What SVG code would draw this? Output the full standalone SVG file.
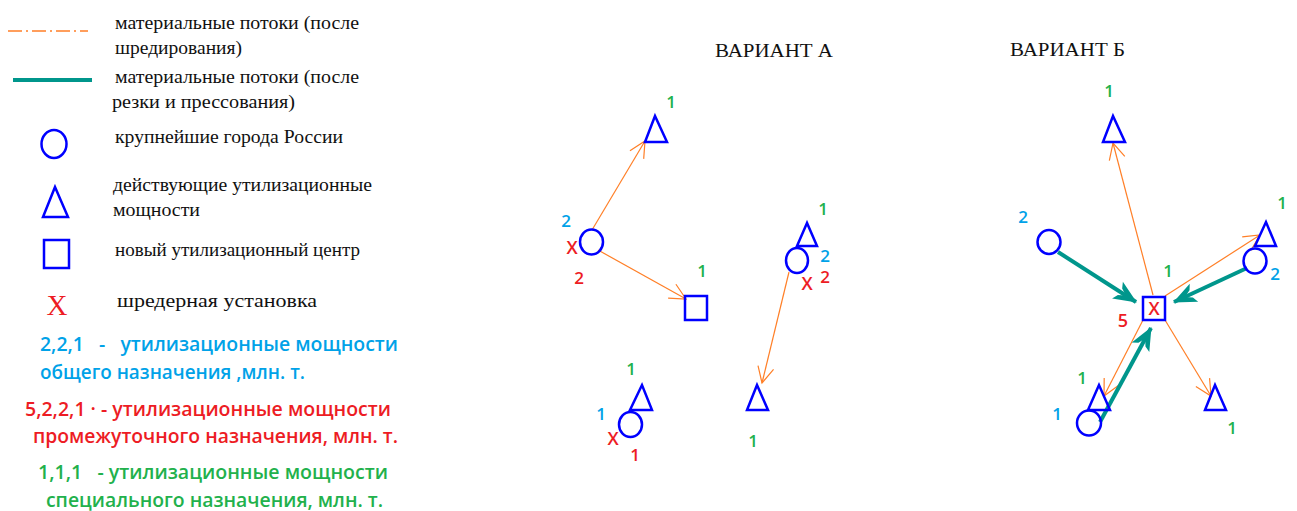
<svg xmlns="http://www.w3.org/2000/svg" width="1297" height="511" viewBox="0 0 1297 511">
<style>
  .lt { font-family: "Liberation Serif", "Times New Roman", serif; font-size: 19px; fill: #111; }
  .ct { font-family: "Open Sans", "Liberation Sans", Arial, sans-serif; font-size: 19px; font-weight: 600; }
  .ttl { font-family: "Liberation Serif", "Times New Roman", serif; font-size: 19px; fill: #111; }
  .num { font-family: "Open Sans", "Liberation Sans", Arial, sans-serif; font-size: 17px; font-weight: 600; text-anchor: middle; }
  .x { font-size: 18px; }
  .g { fill: #22b14c; }
  .b { fill: #00a2e8; }
  .r { fill: #ed1c24; }
  .shp { fill: none; stroke: #0000ff; stroke-width: 2.5; }
  .of { fill: none; stroke: #ff7f27; stroke-width: 1.2; }
  .tf { fill: none; stroke: #00968c; stroke-width: 4; }
</style>
<defs>
  <marker id="ao" markerUnits="userSpaceOnUse" viewBox="-20 -12 24 24" refX="0" refY="0" markerWidth="24" markerHeight="24" orient="auto" overflow="visible">
    <path d="M-16,-8 L0,0 L-16,8" fill="none" stroke="#ff7f27" stroke-width="1.2"/>
  </marker>
  <marker id="at" markerUnits="userSpaceOnUse" viewBox="-26 -14 30 28" refX="0" refY="0" markerWidth="30" markerHeight="28" orient="auto" overflow="visible">
    <path d="M1,0 L-22,-10 L-19,-4 L-12,0 L-19,4 L-22,10 Z" fill="#00968c"/>
  </marker>
</defs>

<g id="legend">
  <line x1="8" y1="31" x2="88" y2="31" stroke="#ff7f27" stroke-width="1.3" stroke-dasharray="14 4 2 4"/>
  <text class="lt" x="115" y="29" textLength="244" lengthAdjust="spacingAndGlyphs">материальные потоки (после</text>
  <text class="lt" x="115" y="54" textLength="127" lengthAdjust="spacingAndGlyphs">шредирования)</text>
  <line x1="13" y1="80" x2="92" y2="80" stroke="#00968c" stroke-width="4"/>
  <text class="lt" x="115" y="83" textLength="244" lengthAdjust="spacingAndGlyphs">материальные потоки (после</text>
  <text class="lt" x="112" y="108" textLength="183" lengthAdjust="spacingAndGlyphs">резки и прессования)</text>
  <ellipse class="shp" cx="54" cy="144" rx="12.5" ry="14"/>
  <text class="lt" x="115" y="143" textLength="228" lengthAdjust="spacingAndGlyphs">крупнейшие города России</text>
  <polygon class="shp" points="55,187 43,217 68,217" stroke-width="3"/>
  <text class="lt" x="113" y="191" textLength="259" lengthAdjust="spacingAndGlyphs">действующие утилизационные</text>
  <text class="lt" x="113" y="216" textLength="87" lengthAdjust="spacingAndGlyphs">мощности</text>
  <rect class="shp" x="44" y="240" width="25" height="28" stroke-width="3"/>
  <text class="lt" x="115" y="256" textLength="245" lengthAdjust="spacingAndGlyphs">новый утилизационный центр</text>
  <text x="57" y="315" text-anchor="middle" font-family="Liberation Serif, serif" font-size="29" fill="#ed1c24">X</text>
  <text class="lt" x="117" y="307" textLength="200" lengthAdjust="spacingAndGlyphs">шредерная установка</text>
  <text class="ct b" x="40" y="351" xml:space="preserve" textLength="358" lengthAdjust="spacingAndGlyphs">2,2,1   -   утилизационные мощности</text>
  <text class="ct b" x="40" y="379" textLength="265" lengthAdjust="spacingAndGlyphs">общего назначения ,млн. т.</text>
  <text class="ct r" x="25" y="416" xml:space="preserve" textLength="366" lengthAdjust="spacingAndGlyphs">5,2,2,1 · - утилизационные мощности</text>
  <text class="ct r" x="33" y="443" textLength="365" lengthAdjust="spacingAndGlyphs">промежуточного назначения, млн. т.</text>
  <text class="ct g" x="38" y="479" xml:space="preserve" textLength="350" lengthAdjust="spacingAndGlyphs">1,1,1   - утилизационные мощности</text>
  <text class="ct g" x="46" y="507" textLength="337" lengthAdjust="spacingAndGlyphs">специального назначения, млн. т.</text>
</g>

<text class="ttl" x="715" y="57" textLength="118" lengthAdjust="spacingAndGlyphs">ВАРИАНТ А</text>
<text class="ttl" x="1010" y="56" textLength="115" lengthAdjust="spacingAndGlyphs">ВАРИАНТ Б</text>

<g id="connectors">
  <line class="of" x1="592" y1="230" x2="645" y2="141" marker-end="url(#ao)"/>
  <line class="of" x1="598" y1="250" x2="686" y2="299" marker-end="url(#ao)"/>
  <line class="of" x1="789" y1="272" x2="762" y2="383" marker-end="url(#ao)"/>
  <line class="of" x1="1153" y1="295" x2="1113" y2="143" marker-end="url(#ao)"/>
  <line class="of" x1="1165" y1="296" x2="1260" y2="235" marker-end="url(#ao)"/>
  <line class="of" x1="1143" y1="320" x2="1104" y2="396" marker-end="url(#ao)"/>
  <line class="of" x1="1165" y1="320" x2="1211" y2="396" marker-end="url(#ao)"/>
  <line class="tf" x1="1058" y1="252" x2="1136" y2="302" marker-end="url(#at)"/>
  <line class="tf" x1="1247" y1="268" x2="1174" y2="302" marker-end="url(#at)"/>
  <line class="tf" x1="1100" y1="422" x2="1151" y2="328" marker-end="url(#at)"/>
</g>

<g id="varA-top-triangle">
  <polygon class="shp" points="655,116 645,142 667,142"/>
  <text class="num g" x="671" y="108">1</text>
</g>
<g id="varA-city-left">
  <ellipse class="shp" cx="591.5" cy="242" rx="11.5" ry="12.5"/>
  <text class="num b" x="566" y="227">2</text>
  <text class="num r x" x="572" y="254">X</text>
  <text class="num r" x="579" y="284">2</text>
</g>
<g id="varA-center">
  <rect class="shp" x="685" y="296" width="22" height="24"/>
  <text class="num g" x="702" y="277">1</text>
</g>
<g id="varA-right-triangle">
  <polygon class="shp" points="807,223 797,246 817,246"/>
  <text class="num g" x="823" y="215">1</text>
</g>
<g id="varA-city-right">
  <ellipse class="shp" cx="797" cy="260.5" rx="11" ry="12.5"/>
  <text class="num b" x="825" y="262">2</text>
  <text class="num r x" x="807" y="290">X</text>
  <text class="num r" x="825" y="283">2</text>
</g>
<g id="varA-bottom-triangle">
  <polygon class="shp" points="757,385 747,410 768,410"/>
  <text class="num g" x="753" y="447">1</text>
</g>
<g id="varA-lower-triangle">
  <polygon class="shp" points="642,385 630,410 652,410"/>
  <text class="num g" x="631" y="375">1</text>
</g>
<g id="varA-city-lower">
  <ellipse class="shp" cx="630.5" cy="424.5" rx="11.5" ry="12.5"/>
  <text class="num b" x="601" y="420">1</text>
  <text class="num r x" x="613" y="445">X</text>
  <text class="num r" x="635" y="461">1</text>
</g>

<g id="varB-top-triangle">
  <polygon class="shp" points="1113,116 1103,142 1125,142"/>
  <text class="num g" x="1109" y="97">1</text>
</g>
<g id="varB-city-left">
  <ellipse class="shp" cx="1049" cy="242" rx="11.5" ry="12"/>
  <text class="num b" x="1023" y="223">2</text>
</g>
<g id="varB-right-triangle">
  <polygon class="shp" points="1266,222 1255,246 1276,246"/>
  <text class="num g" x="1282" y="209">1</text>
</g>
<g id="varB-city-right">
  <ellipse class="shp" cx="1255" cy="261" rx="11.5" ry="12.5"/>
  <text class="num b" x="1275" y="280">2</text>
</g>
<g id="varB-center">
  <rect class="shp" x="1143" y="297" width="22" height="23" style="fill:#fff"/>
  <text class="num r" x="1154" y="315" style="font-size:18px">X</text>
  <text class="num g" x="1168" y="277">1</text>
  <text class="num r" x="1123" y="327" style="font-size:18px">5</text>
</g>
<g id="varB-lower-triangle">
  <polygon class="shp" points="1099,385 1088,410 1110,410"/>
  <text class="num g" x="1082" y="384">1</text>
</g>
<g id="varB-city-lower">
  <ellipse class="shp" cx="1089" cy="423" rx="12" ry="12.5"/>
  <text class="num b" x="1057" y="420">1</text>
</g>
<g id="varB-right-lower-triangle">
  <polygon class="shp" points="1215,385 1205,410 1226,410"/>
  <text class="num g" x="1232" y="434">1</text>
</g>
</svg>
